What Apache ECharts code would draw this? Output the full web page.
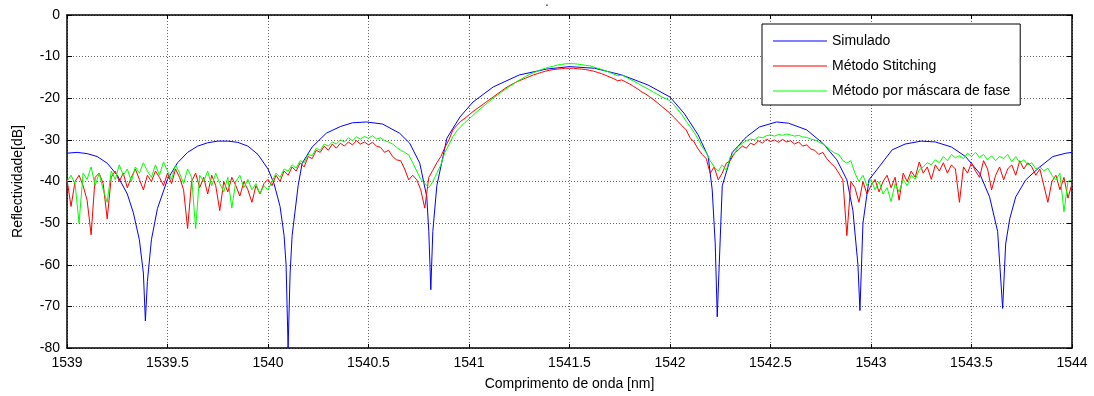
<!DOCTYPE html>
<html>
<head>
<meta charset="utf-8">
<script src="https://cdn.jsdelivr.net/npm/echarts@6/dist/echarts.min.js"></script>
<style>html,body{margin:0;padding:0;background:#fff}#c{width:1094px;height:396px}</style>
</head>
<body>
<div id="c"></div>
<script>
// ---- Data ----
const seriesNames = ['Simulado', 'Método Stitching', 'Método por máscara de fase'];
const xTicks = [1539, 1539.5, 1540, 1540.5, 1541, 1541.5, 1542, 1542.5, 1543, 1543.5, 1544];
const yTicks = [-80, -70, -60, -50, -40, -30, -20, -10, 0];

// Simulado (blue) - wavelength [nm]
const simX = [1539.00,1539.05,1539.10,1539.15,1539.20,1539.25,1539.30,1539.33,1539.36,1539.38,1539.39,1539.40,1539.42,1539.45,1539.50,1539.55,1539.60,1539.65,1539.70,1539.75,1539.80,1539.85,1539.90,1539.95,1540.00,1540.03,1540.06,1540.08,1540.09,1540.10,1540.11,1540.12,1540.15,1540.17,1540.22,1540.29,1540.36,1540.42,1540.49,1540.57,1540.655,1540.705,1540.755,1540.79,1540.80,1540.81,1540.82,1540.84,1540.89,1540.955,1541.02,1541.12,1541.25,1541.385,1541.50,1541.625,1541.76,1541.89,1542.00,1542.07,1542.14,1542.19,1542.21,1542.225,1542.235,1542.26,1542.31,1542.38,1542.445,1542.53,1542.59,1542.68,1542.76,1542.83,1542.88,1542.91,1542.935,1542.945,1542.96,1542.99,1543.04,1543.105,1543.17,1543.25,1543.32,1543.40,1543.47,1543.54,1543.59,1543.63,1543.655,1543.67,1543.69,1543.72,1543.77,1543.84,1543.905,1543.97,1544.00];
// Simulado (blue) - reflectivity [dB]
const simY = [-33.2,-33.0,-33.3,-34.0,-35.6,-38.5,-43.0,-47.5,-54.0,-62.0,-73.5,-64.0,-54.0,-46.5,-39.5,-35.5,-33.0,-31.5,-30.7,-30.3,-30.3,-30.6,-31.5,-33.5,-37.0,-40.5,-46.0,-53.0,-60.0,-80.0,-62.0,-53.0,-41.0,-35.6,-31.7,-28.4,-26.8,-25.9,-25.7,-26.2,-28.4,-30.8,-35.6,-43.7,-52.0,-66.0,-52.0,-41.0,-29.6,-24.5,-20.9,-17.3,-14.4,-13.0,-12.4,-12.8,-14.4,-16.8,-19.7,-23.6,-28.8,-34.0,-42.0,-55.0,-72.5,-41.0,-33.0,-29.3,-26.9,-25.7,-26.0,-27.6,-30.8,-34.8,-39.6,-47.0,-60.0,-71.0,-50.0,-39.6,-36.5,-32.4,-31.0,-30.3,-30.5,-31.7,-34.0,-38.0,-43.7,-52.0,-70.5,-55.0,-49.0,-43.7,-39.6,-36.5,-34.0,-33.2,-33.0];

// Measured spectra sampled every 0.02 nm from 1539.00 to 1544.00
const measStart = 1539.0;
const measStep = 0.02;
const stitchingY = [
-39.5,-46,-40,-38.5,-41,-44.5,-52.8,-39,-38,-40.5,
-49,-39,-37.5,-40,-38,-41.5,-39,-37,-39.5,-42,
-38.5,-40,-37.5,-39,-41,-38,-40.5,-37,-39,-42,
-51.3,-40,-38,-41.5,-39,-43,-38.5,-41,-47,-40,
-42.5,-39,-41,-43.5,-40,-42,-45,-41,-43,-40.5,
-39.5,-41,-38.5,-40,-37.5,-38.5,-36.5,-37.5,-35.5,-36.5,
-34,-34.5,-32.5,-33,-31.5,-32.5,-31,-32,-30.8,-31.5,
-30.5,-31.2,-30.2,-31,-30.5,-31.2,-30.6,-31.5,-31.8,-33,
-32.5,-34,-34.8,-35,-37,-39.6,-38.5,-39.6,-42,-46.4,
-39,-37.3,-35.5,-34,-31.8,-30,-27.6,-26.5,-25.5,-24.8,
-24,-23.2,-22.5,-21.8,-21.1,-20.4,-19.7,-19.0,-18.3,-17.6,
-17.0,-16.5,-16.0,-15.6,-15.2,-14.8,-14.4,-14.1,-13.8,-13.5,
-13.3,-13.1,-13.0,-12.9,-12.8,-12.8,-12.8,-12.9,-13.0,-13.1,
-13.3,-13.5,-13.8,-14.1,-14.5,-14.9,-15.3,-15.8,-15.6,-16.1,
-16.6,-17.2,-17.8,-18.5,-19.0,-19.7,-20.4,-21.2,-22.0,-22.8,
-23.6,-24.6,-25.6,-26.6,-27.6,-29.5,-30.5,-32.2,-33.5,-34.5,
-38,-36.5,-39.6,-38,-35.6,-35,-33.2,-32.4,-31.5,-32,
-30.8,-31.2,-30.2,-30.8,-29.8,-30.4,-30,-30.6,-29.9,-30.5,
-30.2,-31,-30.5,-31.5,-31.2,-32.2,-32.5,-33.5,-33,-34.5,
-35.6,-36.5,-38,-39.6,-53,-40,-41.5,-45,-40,-43,
-41,-39.5,-42.5,-40,-38.5,-41.5,-39,-44.5,-38,-40,
-37.5,-39,-35.3,-38,-36.5,-39.5,-36,-37.5,-35.5,-38,
-36,-37,-45,-36.5,-38,-35.5,-37.5,-39,-35,-37,
-42,-38.5,-36.5,-39.6,-37,-36,-38.5,-35,-37,-35.5,
-36.5,-38.5,-37,-41,-45,-40,-38.5,-42,-39,-44,
-40.5];
const mascaraY = [
-40,-38.5,-40.5,-50,-38,-39.5,-36.5,-41,-38,-42,
-45,-37.5,-39.5,-36,-38.5,-37,-40,-36.5,-38,-35.5,
-37.5,-39,-36,-38.5,-35.3,-37.5,-39.5,-36,-38,-40.5,
-37,-39,-51.3,-38.5,-40,-37.5,-41,-38,-40.5,-42.5,
-39,-46.4,-40,-38.5,-41.5,-39.5,-42,-40.5,-43,-41,
-42,-40,-38,-39,-37,-37.5,-36,-36.8,-35,-35.5,
-33.5,-33.8,-32,-32.5,-31,-31.5,-30.5,-31,-30,-30.5,
-29.5,-30.2,-29.3,-29.8,-29.2,-29.6,-29,-29.8,-29.5,-30.2,
-30.5,-31,-31.8,-32.5,-33,-33.6,-35.5,-37.5,-39.5,-40.4,
-41.5,-40,-38,-36,-33,-31.2,-29.2,-27.8,-26.8,-25.8,
-25.0,-24.1,-23.2,-22.4,-21.6,-20.8,-20.0,-19.3,-18.6,-17.9,
-17.2,-16.6,-15.9,-15.4,-14.8,-14.3,-13.9,-13.5,-13.1,-12.8,
-12.5,-12.3,-12.0,-11.9,-11.7,-11.7,-11.7,-11.8,-11.9,-12.1,
-12.2,-12.5,-12.8,-13.1,-13.4,-13.8,-14.2,-14.6,-14.4,-14.9,
-15.4,-15.9,-16.4,-17.0,-17.5,-18.0,-18.6,-19.1,-19.7,-20.1,
-20.6,-21.6,-22.8,-24.0,-25.5,-26.8,-28.2,-29.8,-31.7,-33,
-35,-36.5,-37.5,-36,-37.3,-34,-33.5,-31.5,-30.8,-30.2,
-29.8,-30,-29.3,-29.5,-29,-28.8,-29.1,-28.7,-28.9,-28.6,
-28.8,-29.1,-28.9,-29.3,-29.4,-29.8,-30,-30.5,-31,-31.7,
-32.5,-33.2,-33.5,-35,-35.6,-35,-38,-40,-38.5,-41,
-39.5,-42,-40,-43,-41.5,-44.8,-40.5,-42.5,-39.5,-41,
-38.5,-39.5,-37.2,-36.5,-35.5,-36,-34.8,-35.5,-34,-35,
-33.5,-34.3,-33.8,-34.5,-33.2,-34,-33,-34.2,-33.5,-34.8,
-33.8,-35,-34,-34.5,-33.5,-35.2,-34,-35.5,-34.8,-36,
-35.5,-37,-36.5,-37.5,-36.8,-38.5,-39.6,-38,-47.3,-40,
-39.5];

// ---- Build series from the arrays ----
const simData = simX.map((x, i) => [x, simY[i]]);
const toPairs = arr => arr.map((y, i) => [+(measStart + i * measStep).toFixed(2), y]);
const seriesColors = ['#0000ff', '#ff0000', '#00ff00'];

const FONT = 'Liberation Sans, Arial, sans-serif';
const chart = echarts.init(document.getElementById('c'), null, {renderer: 'canvas'});

const axisLineStyle = {color: '#000', width: 1.5};
const gridLine = {show: true, lineStyle: {color: '#666', type: [1, 2], width: 1}};
const option = {
  backgroundColor: '#fff',
  animation: false,
  title: {text: '.', left: 'center', top: -8, textStyle: {fontSize: 12, fontWeight: 'normal', color: '#000', fontFamily: FONT}},
  grid: {left: 67, right: 22, top: 15, bottom: 48, containLabel: false},
  legend: {
    data: seriesNames.map((n, i) => ({name: n, icon: 'rect', itemStyle: {color: seriesColors[i]}})),
    orient: 'vertical',
    left: 762,
    top: 24,
    width: 301,
    padding: [10, 10, 7, 11],
    itemGap: 11,
    itemWidth: 54,
    itemHeight: 1,
    backgroundColor: '#fff',
    borderColor: '#000',
    borderWidth: 1,
    textStyle: {fontFamily: FONT, fontSize: 14, color: '#000', lineHeight: 14}
  },
  xAxis: [{
    type: 'value', min: xTicks[0], max: xTicks[xTicks.length - 1], interval: 0.5,
    name: 'Comprimento de onda [nm]', nameLocation: 'middle', nameGap: 29,
    nameTextStyle: {fontFamily: FONT, fontSize: 14, color: '#000'},
    axisLine: {show: true, onZero: false, lineStyle: axisLineStyle},
    axisTick: {show: true, inside: true, length: 4, lineStyle: {color: '#000'}},
    axisLabel: {fontFamily: FONT, fontSize: 14, color: '#000', margin: 8, formatter: v => String(v)},
    splitLine: gridLine
  }, {
    type: 'value', position: 'top', min: xTicks[0], max: xTicks[xTicks.length - 1], interval: 0.5,
    axisLine: {show: true, onZero: false, lineStyle: axisLineStyle},
    axisTick: {show: true, inside: true, length: 4, lineStyle: {color: '#000'}},
    axisLabel: {show: false}, splitLine: {show: false}
  }],
  yAxis: [{
    type: 'value', min: yTicks[0], max: yTicks[yTicks.length - 1], interval: 10,
    name: 'Reflectividade[dB]', nameLocation: 'middle', nameGap: 42, nameRotate: 90,
    nameTextStyle: {fontFamily: FONT, fontSize: 14, color: '#000'},
    axisLine: {show: true, onZero: false, lineStyle: axisLineStyle},
    axisTick: {show: true, inside: true, length: 5, lineStyle: {color: '#000'}},
    axisLabel: {fontFamily: FONT, fontSize: 14, color: '#000', margin: 7},
    splitLine: gridLine
  }, {
    type: 'value', position: 'right', min: yTicks[0], max: yTicks[yTicks.length - 1], interval: 10,
    axisLine: {show: true, onZero: false, lineStyle: axisLineStyle},
    axisTick: {show: true, inside: true, length: 5, lineStyle: {color: '#000'}},
    axisLabel: {show: false}, splitLine: {show: false}
  }],
  series: [
    {name: seriesNames[0], type: 'line', data: simData, symbol: 'none', clip: true,
     lineStyle: {color: seriesColors[0], width: 1}, itemStyle: {color: seriesColors[0]}},
    {name: seriesNames[1], type: 'line', data: toPairs(stitchingY), symbol: 'none', clip: true,
     lineStyle: {color: seriesColors[1], width: 1}, itemStyle: {color: seriesColors[1]}},
    {name: seriesNames[2], type: 'line', data: toPairs(mascaraY), symbol: 'none', clip: true,
     lineStyle: {color: seriesColors[2], width: 1}, itemStyle: {color: seriesColors[2]}}
  ]
};
chart.setOption(option);
</script>
</body>
</html>
